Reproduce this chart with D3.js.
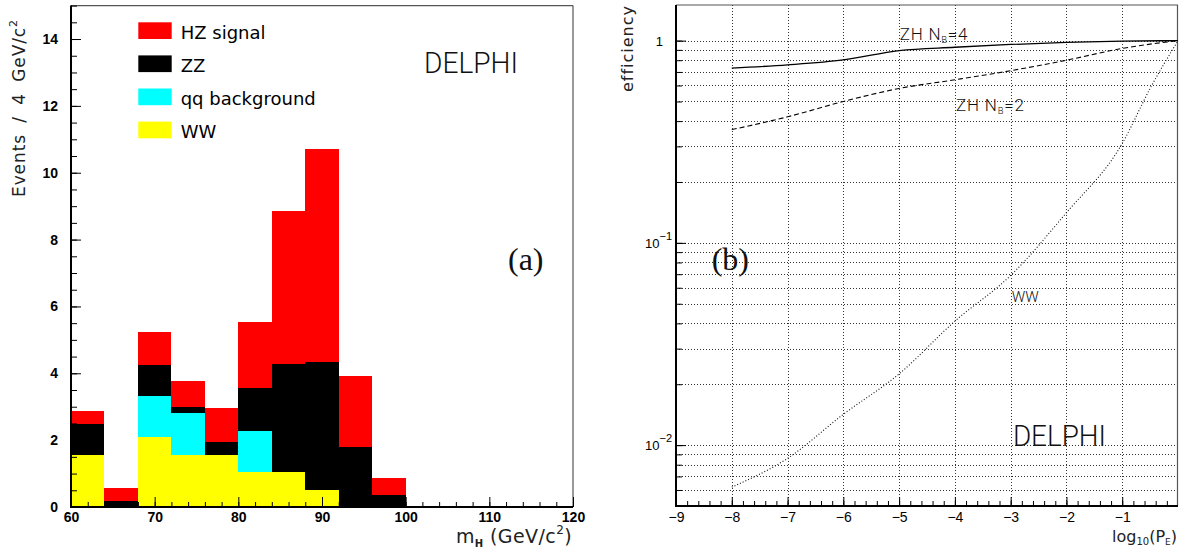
<!DOCTYPE html>
<html><head><meta charset="utf-8">
<script src="https://cdn.jsdelivr.net/npm/d3@7"></script>
<style>body{margin:0;background:#fff} svg{display:block}</style>
</head><body><svg id="c" width="1180" height="549"></svg>
<script>
// ---------- DATA: panel (a) histogram ----------
const binEdges   = [60, 64, 68, 72, 76, 80, 84, 88, 92, 96];
const binWidth   = 4;
const wwBg       = [1.56, 0.00, 2.09, 1.56, 1.56, 1.04, 1.04, 0.50, 0.00, 0.00];
const qqBg       = [0.00, 0.00, 1.22, 1.24, 0.00, 1.23, 0.00, 0.00, 0.00, 0.00];
const zzBg       = [0.92, 0.18, 0.93, 0.18, 0.38, 1.28, 3.25, 3.84, 1.80, 0.35];
const hzSignal   = [0.39, 0.40, 1.00, 0.78, 1.01, 1.99, 4.56, 6.37, 2.11, 0.53];
const legendLabels = ["HZ signal", "ZZ", "qq background", "WW"];
const histXTicks = [60, 70, 80, 90, 100, 110, 120];
const histYTicks = [0, 2, 4, 6, 8, 10, 12, 14];

// ---------- DATA: panel (b) efficiencies ----------
const logPE   = [-8, -7, -6, -5, -4, -3, -2, -1, 0];
const effZH4  = [0.731, 0.759, 0.803, 0.893, 0.927, 0.957, 0.980, 0.994, 1.0];
const effZH2  = [0.363, 0.420, 0.500, 0.580, 0.640, 0.710, 0.800, 0.915, 1.0];
const logPEww = [-8, -7, -6, -5, -4, -3, -2, -1, -0.5, 0];
const effWW   = [0.0062, 0.0086, 0.0142, 0.0225, 0.041, 0.069, 0.141, 0.31, 0.58, 1.0];
const effXTicks = [-9, -8, -7, -6, -5, -4, -3, -2, -1];
const effYTicks = [1, 0.1, 0.01];
const effYLabels = [["1", ""], ["10", "\u22121"], ["10", "\u22122"]];

const svg = d3.select("#c");
const tickFont = "'Liberation Sans', Arial, sans-serif";
const geoFont = "'DejaVu Sans', sans-serif";
const thinFont = "Roboto, 'Noto Sans', sans-serif";

// =============== PANEL (a) ===============
const xH = d3.scaleLinear().domain([60, 120]).range([71, 573]);
const yH = d3.scaleLinear().domain([0, 15]).range([507, 5.6]);
const keys = ["ww", "qq", "zz", "hz"];
const colors = {ww: "#ffff00", qq: "#00ffff", zz: "#000000", hz: "#ff0000"};
const rows = binEdges.map((e, i) => ({x0: e, ww: wwBg[i], qq: qqBg[i], zz: zzBg[i], hz: hzSignal[i]}));
const series = d3.stack().keys(keys)(rows);

const gH = svg.append("g").attr("shape-rendering", "crispEdges");
series.forEach(s => {
  gH.selectAll(null).data(s.filter(d => d[1] - d[0] > 0)).enter().append("rect")
    .attr("x", d => xH(d.data.x0))
    .attr("width", d => xH(d.data.x0 + binWidth) - xH(d.data.x0))
    .attr("y", d => yH(d[1]))
    .attr("height", d => yH(d[0]) - yH(d[1]))
    .attr("fill", colors[s.key]);
});

// frame
const [hx0, hx1] = xH.range(), [hy0, hy1] = yH.range();
svg.append("line").attr("x1", hx0).attr("x2", hx1).attr("y1", hy1).attr("y2", hy1).attr("stroke", "#555").attr("stroke-width", 1.2);
svg.append("line").attr("x1", hx1).attr("x2", hx1).attr("y1", hy1).attr("y2", hy0).attr("stroke", "#555").attr("stroke-width", 1.2);
// dashed zero-level outline beyond last bin
svg.append("line").attr("x1", xH(100)).attr("x2", hx1).attr("y1", hy0 - 0.5).attr("y2", hy0 - 0.5)
  .attr("stroke", "#c8b400").attr("stroke-width", 1).attr("stroke-dasharray", "3,3");

// y axis (a)
function styleAxis(g) {
  g.select(".domain").remove();
  g.selectAll(".tick line").attr("stroke", "#000").attr("stroke-width", 1);
}
svg.append("g").attr("transform", `translate(${hx0},0)`)
  .call(d3.axisLeft(yH).tickValues(d3.range(0, 15.01, 0.5)).tickSize(-6).tickFormat(""))
  .call(styleAxis);
svg.append("g").attr("transform", `translate(${hx0},0)`)
  .call(d3.axisLeft(yH).tickValues(histYTicks).tickSize(-10).tickPadding(13))
  .call(styleAxis)
  .call(g => g.selectAll("text").attr("font-family", tickFont).attr("font-weight", "bold").attr("font-size", 14).attr("fill", "#000"));
// x axis (a)
svg.append("g").attr("transform", `translate(0,${hy0})`)
  .call(d3.axisBottom(xH).tickValues(d3.range(60, 120.01, 2)).tickSize(-5).tickFormat(""))
  .call(styleAxis);
svg.append("g").attr("transform", `translate(0,${hy0})`)
  .call(d3.axisBottom(xH).tickValues(histXTicks).tickSize(-10).tickPadding(5))
  .call(styleAxis)
  .call(g => g.selectAll("text").attr("font-family", tickFont).attr("font-weight", "bold").attr("font-size", 14).attr("fill", "#000"));
svg.append("line").attr("x1", hx0).attr("x2", hx0).attr("y1", hy1).attr("y2", hy0 + 1).attr("stroke", "#000").attr("stroke-width", 2);
svg.append("line").attr("x1", hx0 - 1).attr("x2", hx1).attr("y1", hy0).attr("y2", hy0).attr("stroke", "#000").attr("stroke-width", 2);

// legend
const legColors = [colors.hz, colors.zz, colors.qq, colors.ww];
const leg = svg.append("g");
legendLabels.forEach((lab, i) => {
  const top = 22.3 + i * 33.1;
  leg.append("rect").attr("x", 138.3).attr("y", top).attr("width", 33.4).attr("height", 16.7).attr("fill", legColors[i]);
  leg.append("text").attr("x", 180.7).attr("y", top + 16.7).attr("font-family", geoFont).attr("font-size", 18)
    .attr("fill", "#000").text(lab);
});

// annotations (a)
svg.append("text").attr("x", 424).attr("y", 73.3).attr("font-family", thinFont).attr("font-weight", 300)
  .attr("font-size", 30).attr("textLength", 94).attr("lengthAdjust", "spacingAndGlyphs").attr("fill", "#111").text("DELPHI");
svg.append("text").attr("x", 508).attr("y", 270).attr("font-family", "'Liberation Serif', 'DejaVu Serif', serif")
  .attr("font-size", 32).attr("fill", "#111").text("(a)");

// axis titles (a)
const yt = svg.append("text").attr("transform", "translate(25,197) rotate(-90)")
  .attr("font-family", geoFont).attr("font-size", 17).attr("letter-spacing", 0.9).attr("word-spacing", 5).attr("fill", "#222");
yt.append("tspan").text("Events / 4 GeV/c");
yt.append("tspan").attr("dy", -8).attr("font-size", 11).text("2");

const xt = svg.append("text").attr("x", 572).attr("y", 543).attr("text-anchor", "end")
  .attr("font-family", geoFont).attr("font-size", 19).attr("letter-spacing", 0.4).attr("fill", "#222");
xt.append("tspan").text("m");
xt.append("tspan").attr("dy", 4).attr("font-size", 10).attr("font-weight", "bold").text("H");
xt.append("tspan").attr("dy", -4).text(" (GeV/c");
xt.append("tspan").attr("dy", -9).attr("font-size", 12).text("2");
xt.append("tspan").attr("dy", 9).text(")");

// =============== PANEL (b) ===============
const xE = d3.scaleLinear().domain([-9, 0]).range([676, 1178]);
const yE = d3.scaleLog().domain([0.005, 1.5]).range([506, 5]);
const [ex0, ex1] = xE.range(), [ey0, ey1] = yE.range();

// grid
const gridY = yE.ticks().filter(v => v > 0.0051 && v <= 1.0001);
const gG = svg.append("g").attr("stroke", "#333").attr("stroke-width", 1).attr("stroke-dasharray", "1,2");
gG.selectAll(null).data(gridY).enter().append("line")
  .attr("x1", ex0).attr("x2", ex1).attr("y1", d => Math.round(yE(d)) + 0.5).attr("y2", d => Math.round(yE(d)) + 0.5);
gG.selectAll(null).data(effXTicks.filter(v => v > -9)).enter().append("line")
  .attr("y1", ey1).attr("y2", ey0).attr("x1", d => Math.round(xE(d)) + 0.5).attr("x2", d => Math.round(xE(d)) + 0.5);

// frame
svg.append("line").attr("x1", ex0).attr("x2", ex1).attr("y1", ey1).attr("y2", ey1).attr("stroke", "#555").attr("stroke-width", 1.2);
svg.append("line").attr("x1", ex1 - 0.5).attr("x2", ex1 - 0.5).attr("y1", ey1).attr("y2", ey0).attr("stroke", "#555").attr("stroke-width", 1.2);

// curves
const line = d3.line().x(d => xE(d[0])).y(d => yE(d[1])).curve(d3.curveMonotoneX);
svg.append("path").attr("d", line(logPE.map((x, i) => [x, effZH4[i]])))
  .attr("fill", "none").attr("stroke", "#000").attr("stroke-width", 1.3);
svg.append("path").attr("d", line(logPE.map((x, i) => [x, effZH2[i]])))
  .attr("fill", "none").attr("stroke", "#000").attr("stroke-width", 1.1).attr("stroke-dasharray", "5,3");
svg.append("path").attr("d", line(logPEww.map((x, i) => [x, effWW[i]])))
  .attr("fill", "none").attr("stroke", "#111").attr("stroke-width", 1.1).attr("stroke-dasharray", "1,2");

// axes (b)
svg.append("g").attr("transform", `translate(${ex0},0)`)
  .call(d3.axisLeft(yE).tickValues(gridY).tickSize(-6).tickFormat(""))
  .call(styleAxis);
svg.append("g").attr("transform", `translate(${ex0},0)`)
  .call(d3.axisLeft(yE).tickValues(effYTicks).tickSize(-10).tickFormat(""))
  .call(styleAxis);
svg.append("g").attr("transform", `translate(0,${ey0})`)
  .call(d3.axisBottom(xE).tickValues(d3.range(-9, -0.05, 0.2)).tickSize(-5).tickFormat(""))
  .call(styleAxis);
svg.append("g").attr("transform", `translate(0,${ey0})`)
  .call(d3.axisBottom(xE).tickValues(effXTicks).tickSize(-9).tickPadding(6))
  .call(styleAxis)
  .call(g => g.selectAll("text").attr("font-family", tickFont).attr("font-size", 14).attr("fill", "#000"));
svg.append("line").attr("x1", ex0).attr("x2", ex0).attr("y1", ey1).attr("y2", ey0 + 1).attr("stroke", "#000").attr("stroke-width", 2);
svg.append("line").attr("x1", ex0 - 1).attr("x2", ex1).attr("y1", ey0).attr("y2", ey0).attr("stroke", "#000").attr("stroke-width", 2);

// y labels (b)
effYTicks.forEach((v, i) => {
  const [base, sup] = effYLabels[i];
  const t = svg.append("text").attr("x", sup ? ex0 - 4 : ex0 - 13).attr("y", yE(v) + 5)
    .attr("text-anchor", "end").attr("font-family", tickFont).attr("font-size", 13).attr("fill", "#000");
  t.append("tspan").text(base);
  if (sup) t.append("tspan").attr("dy", -8).attr("font-size", 11).text(sup);
});

// annotations (b)
function subLabel(x, y, a, sub, b, size) {
  const t = svg.append("text").attr("x", x).attr("y", y).attr("font-family", thinFont).attr("font-weight", 300)
    .attr("font-size", size).attr("letter-spacing", 0.8).attr("fill", "#111");
  t.append("tspan").text(a);
  t.append("tspan").attr("dy", 3).attr("font-size", size * 0.55).text(sub);
  t.append("tspan").attr("dy", -3).text(b);
  return t;
}
subLabel(xE(-4.99), yE(1.0) - 0.5, "ZH N", "B", "=4", 17);
subLabel(xE(-3.98), yE(0.447), "ZH N", "B", "=2", 17);
svg.append("text").attr("x", xE(-2.98)).attr("y", yE(0.051)).attr("font-family", thinFont).attr("font-weight", 300)
  .attr("font-size", 15).attr("fill", "#111").text("WW");
svg.append("text").attr("x", xE(-2.96)).attr("y", yE(0.0099)).attr("font-family", thinFont).attr("font-weight", 300)
  .attr("font-size", 29).attr("textLength", 93).attr("lengthAdjust", "spacingAndGlyphs").attr("fill", "#111").text("DELPHI");
svg.append("text").attr("x", xE(-8.36)).attr("y", 270).attr("font-family", "'Liberation Serif', 'DejaVu Serif', serif")
  .attr("font-size", 32).attr("fill", "#111").text("(b)");

// axis titles (b)
svg.append("text").attr("transform", "translate(633,5) rotate(-90)").attr("text-anchor", "end")
  .attr("font-family", geoFont).attr("font-size", 16).attr("letter-spacing", 1).attr("fill", "#222").text("efficiency");
const lt = svg.append("text").attr("x", 1177).attr("y", 542).attr("text-anchor", "end")
  .attr("font-family", geoFont).attr("font-size", 16).attr("fill", "#222");
lt.append("tspan").text("log");
lt.append("tspan").attr("dy", 3).attr("font-size", 10).text("10");
lt.append("tspan").attr("dy", -3).text("(P");
lt.append("tspan").attr("dy", 3).attr("font-size", 9).text("E");
lt.append("tspan").attr("dy", -3).text(")");
</script></body></html>
